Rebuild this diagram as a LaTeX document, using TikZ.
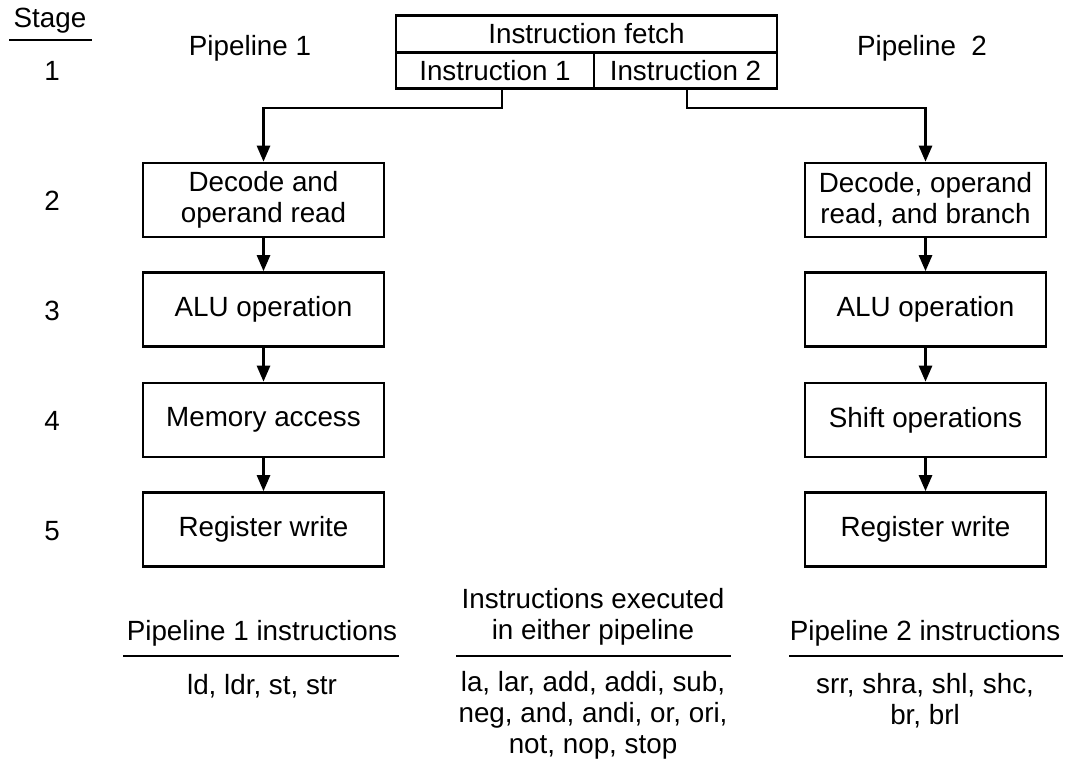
\documentclass[tikz,border=0pt]{standalone}
\usepackage{fontspec}
\setmainfont{Liberation Sans}
\usetikzlibrary{arrows.meta}
\newcommand\myfs{\fontsize{27.8}{31}\selectfont}
\begin{document}
\begin{tikzpicture}[x=1pt,y=-1pt,
  every node/.style={font=\myfs, inner sep=0pt},
  stagebox/.style={draw, line width=2.6pt, minimum width=241pt, minimum height=74pt, align=center},
  cell/.style={draw, line width=2.6pt, minimum height=36.5pt},
  lbl/.style={align=center},
  rule/.style={line width=2.6pt},
  arr/.style={line width=2.6pt, -{Triangle[length=16pt,width=13pt]}}]
\useasboundingbox (0,0) rectangle (1067,767);

% stage column
\node (stage) at (50,21) {Stage};
\draw[rule, line width=2pt] (9,40) -- (92,40);
\node (s1) at (52,71) {1};
\node (s2) at (52,201) {2};
\node (s3) at (52,311) {3};
\node (s4) at (52,421) {4};
\node (s5) at (52,531) {5};

\node (p1) at (250,48) {Pipeline 1};
\node (p2) at (922,48) {Pipeline\ \ 2};

% fetch
\node[cell, minimum width=381pt] (fetch) at (586.5,34) {Instruction fetch};
\node[cell, minimum width=198pt] (i1) at (495,70.5) {Instruction 1};
\node[cell, minimum width=183pt] (i2) at (685.5,70.5) {Instruction 2};

% pipeline 1
\node[stagebox] (d1) at (263.5,200) {Decode and\\operand read};
\node[stagebox] (a1) at (263.5,309.5) {ALU operation};
\node[stagebox] (m1) at (263.5,420) {Memory access};
\node[stagebox] (r1) at (263.5,529.5) {Register write};

% pipeline 2
\node[stagebox] (d2) at (925.5,200) {Decode, operand\\read, and branch};
\node[stagebox] (a2) at (925.5,309.5) {ALU operation};
\node[stagebox] (sh2) at (925.5,420) {Shift operations};
\node[stagebox] (r2) at (925.5,529.5) {Register write};

% connectors
\draw[arr] ([xshift=7pt]i1.south) -- ++(0,18) -| (d1.north);
\draw[arr] ([xshift=1.5pt]i2.south) -- ++(0,18) -| (d2.north);
\draw[arr] (d1) -- (a1);
\draw[arr] (a1) -- (m1);
\draw[arr] (m1) -- (r1);
\draw[arr] (d2) -- (a2);
\draw[arr] (a2) -- (sh2);
\draw[arr] (sh2) -- (r2);

% bottom tables
\node (h1) at (262,633) {Pipeline 1 instructions};
\draw[rule] (123,656) -- (399,656);
\node[lbl] (l1) at (262,686) {ld, ldr, st, str};

\node[lbl] (h2) at (593,617) {Instructions executed\\in either pipeline};
\draw[rule] (456,656) -- (731,656);
\node[lbl] (l2) at (593,715) {la, lar, add, addi, sub,\\neg, and, andi, or, ori,\\not, nop, stop};

\node (h3) at (925,633) {Pipeline 2 instructions};
\draw[rule] (789,656) -- (1063,656);
\node[lbl] (l3) at (925,701) {srr, shra, shl, shc,\\br, brl};
\end{tikzpicture}
\end{document}
